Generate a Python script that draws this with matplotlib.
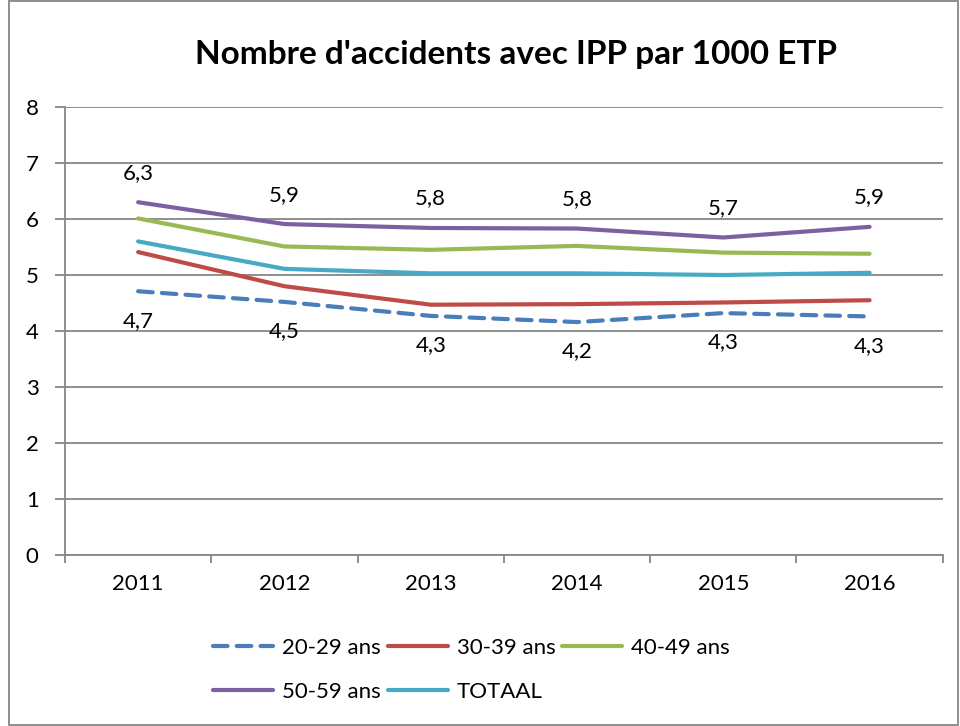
import matplotlib.pyplot as plt
from matplotlib.patches import Rectangle

plt.rcParams['font.family'] = ['Lato', 'DejaVu Sans']

annees = ['2011', '2012', '2013', '2014', '2015', '2016']
ans_20_29 = [4.71, 4.52, 4.27, 4.16, 4.32, 4.26]
ans_30_39 = [5.41, 4.80, 4.47, 4.48, 4.51, 4.55]
ans_40_49 = [6.01, 5.51, 5.45, 5.52, 5.40, 5.38]
ans_50_59 = [6.30, 5.91, 5.84, 5.83, 5.67, 5.86]
totaal = [5.60, 5.11, 5.03, 5.03, 5.00, 5.04]

x = list(range(len(annees)))
gris = '#868686'
fs = 16

fig = plt.figure(figsize=(9.6, 7.26), dpi=100)
ax = fig.add_axes([0.0677, 0.2355, 0.9143, 0.6171])

lw = 3
ax.plot(x, ans_20_29, color='#4A7EBB', lw=lw, dashes=(3.5, 2.2),
        dash_capstyle='round', label='20-29 ans')
ax.plot(x, ans_30_39, color='#BE4B48', lw=lw, solid_capstyle='round', label='30-39 ans')
ax.plot(x, ans_40_49, color='#98B954', lw=lw, solid_capstyle='round', label='40-49 ans')
ax.plot(x, ans_50_59, color='#7D60A0', lw=lw, solid_capstyle='round', label='50-59 ans')
ax.plot(x, totaal, color='#46AAC5', lw=lw, solid_capstyle='round', label='TOTAAL')

# etiquettes de valeurs
for i in x:
    ax.annotate(f'{ans_50_59[i]:.1f}'.replace('.', ','), (i, ans_50_59[i]),
                xytext=(0, 14), textcoords='offset points', ha='center', va='bottom', fontsize=fs)
    ax.annotate(f'{ans_20_29[i]:.1f}'.replace('.', ','), (i, ans_20_29[i]),
                xytext=(0, -14), textcoords='offset points', ha='center', va='top', fontsize=fs)

ax.set_xlim(-0.5, 5.5)
ax.set_ylim(0, 8)
ax.set_yticks(range(0, 9))
ax.set_xticks(x)
ax.set_xticklabels(annees)
ax.set_xticks([i - 0.5 for i in range(len(annees) + 1)], minor=True)
ax.tick_params(axis='x', which='major', length=0, pad=14, labelsize=fs)
ax.tick_params(axis='x', which='minor', length=6, color=gris, width=1.3)
ax.tick_params(axis='y', length=7, color=gris, width=1.3, pad=12, labelsize=fs)
ax.grid(axis='y', color=gris, lw=1.3)
ax.set_axisbelow(True)
for s in ['top', 'right']:
    ax.spines[s].set_visible(False)
for s in ['left', 'bottom']:
    ax.spines[s].set_color(gris)
    ax.spines[s].set_linewidth(1.3)

fig.suptitle("Nombre d'accidents avec IPP par 1000 ETP", x=0.537, y=0.945,
             fontsize=24, fontweight='bold')

# ordre par lignes comme dans Excel
h, l = ax.get_legend_handles_labels()
ordre = [0, 3, 1, 4, 2]
fig.legend([h[k] for k in ordre], [l[k] for k in ordre], loc='upper left',
           bbox_to_anchor=(0.213, 0.134), ncol=3, frameon=False,
           fontsize=fs, handlelength=2.7, handletextpad=0.4, columnspacing=0.3,
           labelspacing=1.1, borderaxespad=0)

fig.patches.append(Rectangle((0.009, 0.001), 0.989, 0.997, transform=fig.transFigure,
                             fill=False, edgecolor=gris, lw=1.3))

fig.savefig('out.png', dpi=100)
